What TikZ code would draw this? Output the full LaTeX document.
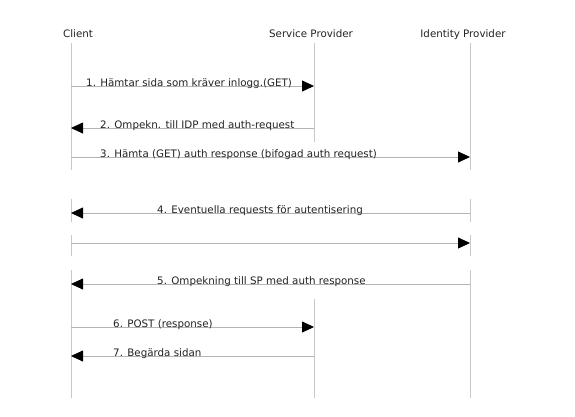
\documentclass[tikz,border=0pt]{standalone}
\usepackage{fontspec}
\setmainfont{DejaVu Sans}
\usetikzlibrary{arrows.meta}
\definecolor{lifegray}{HTML}{C8C8C8}
\definecolor{msggray}{HTML}{B4B4B4}
\definecolor{txt}{HTML}{222222}
\begin{document}
\begin{tikzpicture}[x=1pt,y=-1pt,
  lifeline/.style={draw=lifegray,line width=0.8pt},
  msg/.style={draw=msggray,line width=0.8pt,-{Triangle[length=12pt,width=11pt,fill=black,color=black]}},
  lbl/.style={anchor=base west,font=\fontsize{10.3}{12}\selectfont,text=txt,inner sep=0pt},
  head/.style={anchor=base,font=\fontsize{10.3}{12}\selectfont,text=txt,inner sep=0pt}]
\useasboundingbox (0,0) rectangle (575,416);
% headers
\node[head] (hc) at (78,37) {Client};
\node[head] (hs) at (311,37) {Service Provider};
\node[head] (hi) at (463,37) {Identity Provider};
% lifeline coordinates
\coordinate (c0) at (71,43); \coordinate (c1) at (71,170);
\coordinate (c2) at (71,199); \coordinate (c3) at (71,222);
\coordinate (c4) at (71,235); \coordinate (c5) at (71,256);
\coordinate (c6) at (71,270); \coordinate (c7) at (71,398);
\coordinate (s0) at (314,43); \coordinate (s1) at (314,142);
\coordinate (s2) at (314,299); \coordinate (s3) at (314,398);
\coordinate (i0) at (470,43); \coordinate (i1) at (470,170);
\coordinate (i2) at (470,199); \coordinate (i3) at (470,222);
\coordinate (i4) at (470,235); \coordinate (i5) at (470,256);
\coordinate (i6) at (470,270); \coordinate (i7) at (470,398);
\draw[lifeline] (c0) -- (c1) (c2) -- (c3) (c4) -- (c5) (c6) -- (c7);
\draw[lifeline] (s0) -- (s1) (s2) -- (s3);
\draw[lifeline] (i0) -- (i1) (i2) -- (i3) (i4) -- (i5) (i6) -- (i7);
% message endpoints
\coordinate (m1a) at (71,86);  \coordinate (m1b) at (314,86);
\coordinate (m2a) at (314,128); \coordinate (m2b) at (71,128);
\coordinate (m3a) at (71,157); \coordinate (m3b) at (470,157);
\coordinate (m4a) at (470,213); \coordinate (m4b) at (71,213);
\coordinate (m5a) at (71,243); \coordinate (m5b) at (470,243);
\coordinate (m6a) at (470,284); \coordinate (m6b) at (71,284);
\coordinate (m7a) at (71,327); \coordinate (m7b) at (314,327);
\coordinate (m8a) at (314,356); \coordinate (m8b) at (71,356);
\draw[msg] (m1a) -- (m1b);
\draw[msg] (m2a) -- (m2b);
\draw[msg] (m3a) -- (m3b);
\draw[msg] (m4a) -- (m4b);
\draw[msg] (m5a) -- (m5b);
\draw[msg] (m6a) -- (m6b);
\draw[msg] (m7a) -- (m7b);
\draw[msg] (m8a) -- (m8b);
% labels
\node[lbl] (l1) at (86,86.5) {1. Hämtar sida som kräver inlogg.(GET)};
\node[lbl] (l2) at (100,128.5) {2. Ompekn. till IDP med auth-request};
\node[lbl] (l3) at (100,157.5) {3. Hämta (GET) auth response (bifogad auth request)};
\node[lbl] (l4) at (157,213.5) {4. Eventuella requests för autentisering};
\node[lbl] (l5) at (157,284.5) {5. Ompekning till SP med auth response};
\node[lbl] (l6) at (113,327.5) {6. POST (response)};
\node[lbl] (l7) at (113,356.5) {7. Begärda sidan};
\end{tikzpicture}
\end{document}
